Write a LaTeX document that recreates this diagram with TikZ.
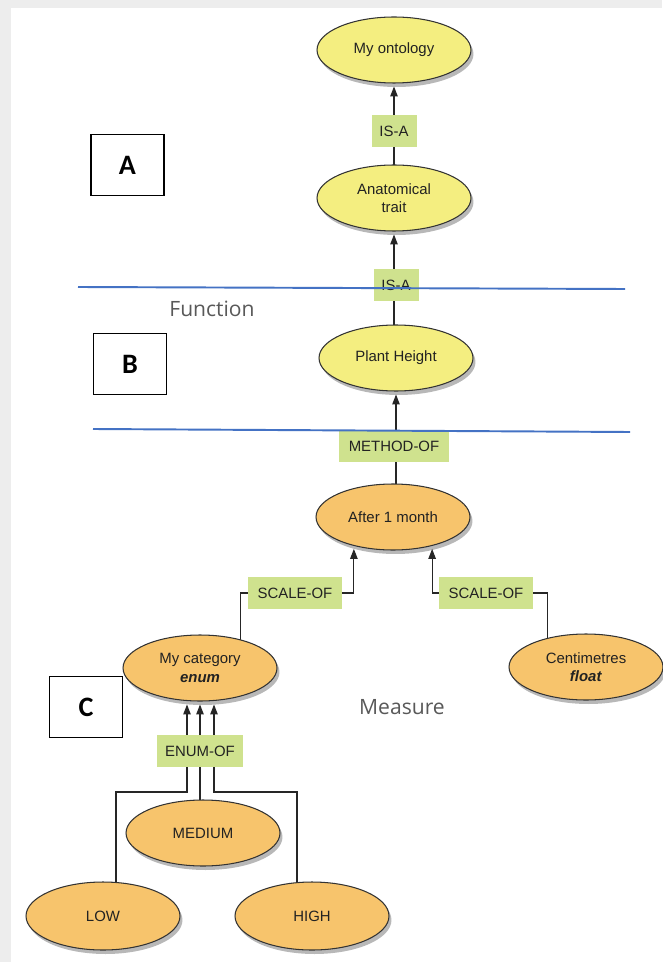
\documentclass[tikz,border=0pt]{standalone}
\usepackage{fontspec}
\setmainfont{Liberation Sans}
\newfontfamily\labfont{Carlito}
\newfontfamily\secfont{Open Sans}
\usetikzlibrary{shapes.geometric,arrows.meta,shadows}
\definecolor{ylw}{HTML}{F4EE80}
\definecolor{org}{HTML}{F7C46C}
\definecolor{grn}{HTML}{CFE28E}
\definecolor{bln}{HTML}{4472C4}
\definecolor{txt}{HTML}{222222}
\pgfdeclarelayer{back}
\pgfdeclarelayer{edges}
\pgfsetlayers{back,edges,main}
\begin{document}
\begin{tikzpicture}[x=0.02cm,y=-0.02cm,
  ell/.style={ellipse, draw=black!80, line width=0.6pt, minimum width=3.08cm,
    minimum height=1.32cm, inner sep=0pt, outer sep=0pt, text=txt,
    font=\fontsize{8.5}{10.5}\selectfont, align=center,
    drop shadow={shadow xshift=0.05cm, shadow yshift=-0.08cm, fill=black, opacity=0.28}},
  lab/.style={fill=grn, inner sep=0pt, minimum height=0.64cm, text=txt,
    font=\fontsize{8.5}{10}\selectfont},
  arr/.style={line width=0.6pt, draw=black!85, shorten >=0.07cm,
    -{Triangle[length=0.2cm,width=0.15cm]}},
  ln/.style={line width=0.6pt, draw=black!85},
  letterbox/.style={draw=black, line width=0.8pt, minimum width=1.46cm,
    minimum height=1.22cm, inner sep=0pt, font=\labfont\bfseries\fontsize{16}{18}\selectfont},
  sect/.style={text=black!65, font=\secfont\fontsize{12}{14}\selectfont},
  blueline/.style={draw=bln, line width=1.1pt}]
\useasboundingbox (0,0) rectangle (662,962);
\begin{pgfonlayer}{back}
  \fill[black!7] (0,0) rectangle (662,962);
  \fill[white] (11,8) rectangle (662,962);
\end{pgfonlayer}

% ontology nodes
\node[ell,fill=ylw] (myont) at (394,50) {My ontology};
\node[ell,fill=ylw] (anat) at (394,198) {Anatomical\\trait};
\node[ell,fill=ylw] (plant) at (396,358) {Plant Height};
\node[ell,fill=org] (after) at (393,517) {After 1 month};
\node[ell,fill=org] (mycat) at (200,668) {My category\\\textbf{\textit{enum}}};
\node[ell,fill=org] (cm) at (586,667) {Centimetres\\\textbf{\textit{float}}};
\node[ell,fill=org] (medium) at (203,833) {MEDIUM};
\node[ell,fill=org,minimum height=1.36cm] (low) at (103,916) {LOW};
\node[ell,fill=org,minimum height=1.36cm] (high) at (312,916) {HIGH};

% relation labels
\node[lab,minimum width=0.9cm] (isa1) at (394,131) {IS-A};
\node[lab,minimum width=0.9cm] (isa2) at (396,285) {IS-A};
\node[lab,minimum width=2.2cm] (meth) at (394,446) {METHOD-OF};
\node[lab,minimum width=1.88cm] (sc1) at (295,593) {SCALE-OF};
\node[lab,minimum width=1.88cm] (sc2) at (486,593) {SCALE-OF};
\node[lab,minimum width=1.74cm] (enum) at (200,751) {ENUM-OF};

% connectors
\begin{pgfonlayer}{edges}
  \draw[arr] (anat) -- (myont);
  \draw[arr] (plant.north -| anat.south) -- (anat);
  \draw[arr] (after.north -| plant.south) -- (plant);
  \draw[ln] (sc1.west) -| (mycat.35);
  \draw[arr] (sc1.east) -| (after.216);
  \draw[arr] (sc2.west) -| (after.324);
  \draw[ln] (sc2.east) -| (cm.143);
  \draw[arr] ([xshift=-0.26cm]enum.north) -- ([xshift=-0.26cm]mycat.south);
  \draw[arr] (enum.north) -- (mycat.south);
  \draw[arr] ([xshift=0.28cm]enum.north) -- ([xshift=0.28cm]mycat.south);
  \draw[ln] ([xshift=-0.26cm]enum.south) -- ([xshift=-0.26cm]enum.south |- 0,792) -| ([xshift=0.26cm]low.north);
  \draw[ln] (enum.south) -- (enum.south |- medium.north);
  \draw[ln] ([xshift=0.28cm]enum.south) -- ([xshift=0.28cm]enum.south |- 0,792) -| ([xshift=-0.3cm]high.north);
\end{pgfonlayer}

% section lines and labels
\draw[blueline] (78,287) -- (625,289);
\draw[blueline] (93,429) -- (630,432);
\node[sect] (fn) at (212,309) {Function};
\node[sect] (ms) at (402,707) {Measure};
\node[letterbox] (boxA) at (127.5,165) {A};
\node[letterbox] (boxB) at (130,364) {B};
\node[letterbox] (boxC) at (86,707) {C};
\end{tikzpicture}
\end{document}
